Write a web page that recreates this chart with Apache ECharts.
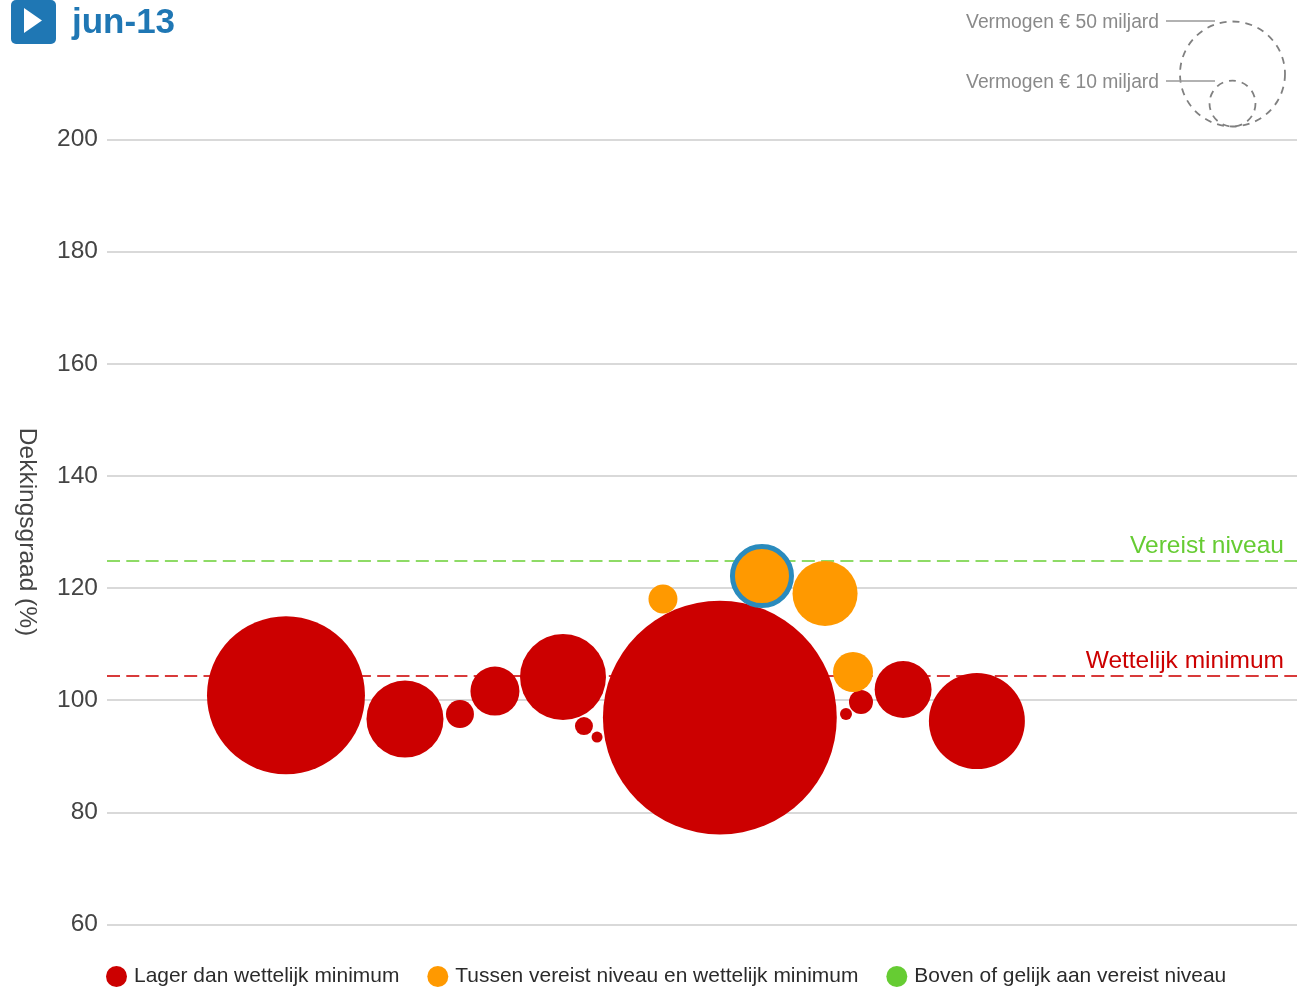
<!DOCTYPE html>
<html>
<head>
<meta charset="utf-8">
<style>html,body{margin:0;padding:0;background:#fff}#c{width:1297px;height:988px}</style>
<script src="https://cdn.jsdelivr.net/npm/echarts@6/dist/echarts.min.js"></script>
</head>
<body>
<div id="c"></div>
<script>
const periodLabel = 'jun-13';
const yTicks = [60, 80, 100, 120, 140, 160, 180, 200];
const seriesNames = ['Lager dan wettelijk minimum', 'Tussen vereist niveau en wettelijk minimum', 'Boven of gelijk aan vereist niveau'];
const redX = [15.04, 25.04, 29.66, 32.6, 38.32, 40.08, 41.18, 51.5, 62.1, 63.36, 66.9, 73.1];
const redY = [100.9, 96.64, 97.53, 101.63, 104.13, 95.39, 93.43, 96.9, 97.53, 99.67, 101.9, 96.28];
const redWealth = [113.2, 26.9, 3.56, 10.9, 33.5, 1.47, 0.55, 248, 0.65, 2.61, 14.7, 41.8];
const orangeX = [46.72, 55.04, 60.34, 62.69];
const orangeY = [118.04, 122.14, 119.02, 105.02];
const orangeWealth = [3.81, 15.8, 19.2, 7.26];
const highlightedOrange = 1;
const requiredLevel = 124.95;
const legalMinimum = 104.4;
const sizeLegendValues = [50, 10];

const pairs = (xs, ys, ws) => xs.map((x, i) => [x, ys[i], ws[i]]);
const R50 = 52.5;
const radius = v => R50 * Math.sqrt(v / 50);
const size = d => 2 * radius(d[2]);
const RED = '#cc0000', ORANGE = '#ff9900', GREEN = '#66cc33', BLUE = '#1f77b4';

const orangeData = pairs(orangeX, orangeY, orangeWealth).map((d, i) =>
  i === highlightedOrange
    ? { value: d, itemStyle: { borderColor: '#2a8bbd', borderWidth: 5 } }
    : { value: d });

const sizeGraphics = [];
sizeLegendValues.forEach((v, i) => {
  const r = radius(v) - (i === 1 ? 0.5 : 0);
  const lineY = 21 + i * 60;
  sizeGraphics.push(
    { type: 'circle', shape: { cx: 1232.5, cy: 126.5 - r, r }, style: { fill: 'none', stroke: '#808080', lineWidth: 1.8, lineDash: [7, 6] } },
    { type: 'line', shape: { x1: 1166, y1: lineY, x2: 1215, y2: lineY }, style: { stroke: '#999', lineWidth: 1.5 } },
    { type: 'text', x: 1159, y: lineY + 2, style: { text: 'Vermogen € ' + v + ' miljard', fill: '#8a8a8a', font: '19.3px "Liberation Sans"', textAlign: 'right', textVerticalAlign: 'middle' } }
  );
});

const chart = echarts.init(document.getElementById('c'), null, { renderer: 'canvas' });
chart.setOption({
  animation: false,
  backgroundColor: '#fff',
  textStyle: { fontFamily: '"Liberation Sans", Arial, sans-serif' },
  grid: { left: 107, right: 0, top: 139.5, bottom: 63.5, outerBoundsMode: 'none' },
  xAxis: { type: 'value', min: 0, max: 100, show: false },
  yAxis: {
    type: 'value', min: yTicks[0], max: yTicks[yTicks.length - 1], interval: 20,
    name: 'Dekkingsgraad (%)', nameLocation: 'middle', nameRotate: -90, nameGap: 68,
    nameTextStyle: { fontSize: 24.5, color: '#444' },
    axisLine: { show: false }, axisTick: { show: false },
    axisLabel: { fontSize: 24.5, color: '#444', margin: 9, padding: [4, 0, 0, 0] },
    splitLine: { lineStyle: { color: '#d9d9d9', width: 2 } }
  },
  legend: {
    left: 106, top: 966, padding: 0, itemWidth: 21, itemHeight: 21, itemGap: 28,
    icon: 'circle', selectedMode: false, data: seriesNames,
    textStyle: { fontSize: 20.95, color: '#2b2b2b', padding: [4, 0, 0, 2] }
  },
  graphic: [
    { type: 'rect', shape: { x: 11, y: 0, width: 45, height: 44, r: 5 }, style: { fill: BLUE } },
    { type: 'polygon', shape: { points: [[24, 8], [24, 33], [42, 20.5]] }, style: { fill: '#fff' } },
    { type: 'text', x: 72, y: 23, style: { text: periodLabel, fill: BLUE, font: 'bold 35px "Liberation Sans"', textVerticalAlign: 'middle' } },
    ...sizeGraphics
  ],
  series: [
    {
      name: seriesNames[0], type: 'scatter', z: 3, silent: true,
      data: pairs(redX, redY, redWealth), symbolSize: size,
      itemStyle: { color: RED, opacity: 1 }, clip: false,
      markLine: {
        silent: true, symbol: 'none', z: 2, animation: false,
        lineStyle: { color: '#d83a3a', type: [13, 6.3], width: 2 },
        label: { position: 'insideEndTop', distance: [13, 2], color: RED, fontSize: 24.5, formatter: 'Wettelijk minimum' },
        data: [{ yAxis: legalMinimum }]
      }
    },
    {
      name: seriesNames[1], type: 'scatter', z: 4, silent: true,
      data: orangeData, symbolSize: size,
      itemStyle: { color: ORANGE, opacity: 1 }, clip: false
    },
    {
      name: seriesNames[2], type: 'scatter', z: 3, silent: true, data: [],
      itemStyle: { color: GREEN, opacity: 1 },
      markLine: {
        silent: true, symbol: 'none', z: 2, animation: false,
        lineStyle: { color: '#8edb66', type: [13, 6.3], width: 2 },
        label: { position: 'insideEndTop', distance: [13, 2], color: GREEN, fontSize: 24.5, formatter: 'Vereist niveau' },
        data: [{ yAxis: requiredLevel }]
      }
    }
  ]
});
</script>
</body>
</html>
